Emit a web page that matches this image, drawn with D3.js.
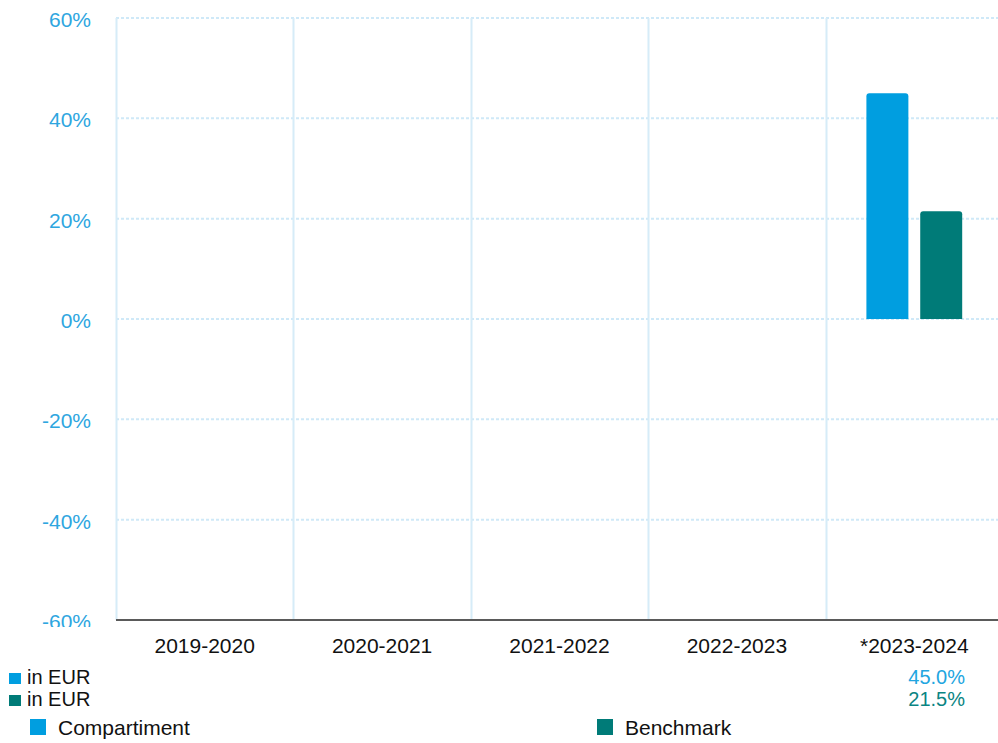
<!DOCTYPE html>
<html>
<head>
<meta charset="utf-8">
<script src="https://cdn.jsdelivr.net/npm/d3@7"></script>
<style>
  body { margin: 0; background: #fff; }
  text { font-family: Arial, "Liberation Sans", sans-serif; }
</style>
</head>
<body>
<div id="chart"></div>
<script>
var width = 998,
  height = 743;

// data
var periods = ["2019-2020", "2020-2021", "2021-2022", "2022-2023", "*2023-2024"];
var seriesNames = ["Compartiment", "Benchmark"];
var seriesColors = ["#009ee0", "#007b78"];
var valueColors = ["#22a5e0", "#0a8583"];
var compartiment = [null, null, null, null, 45.0];
var benchmark = [null, null, null, null, 21.5];
var yTicks = [-60, -40, -20, 0, 20, 40, 60];
var currency = ["in EUR", "in EUR"];

var svg = d3.select("#chart").append("svg")
  .attr("width", width)
  .attr("height", height);

var x = d3.scaleBand()
  .domain(periods)
  .range([116, 1003]);

var xSub = d3.scaleBand()
  .domain(seriesNames)
  .range([x.bandwidth() * 0.23, x.bandwidth() * 0.77])
  .paddingInner(0.22);

var y = d3.scaleLinear()
  .domain([-60, 60])
  .range([620, 18]);

// horizontal dotted grid
svg.append("g")
  .selectAll("line")
  .data(yTicks)
  .enter().append("line")
  .attr("x1", 116)
  .attr("x2", width)
  .attr("y1", function(d) { return y(d); })
  .attr("y2", function(d) { return y(d); })
  .attr("stroke", "#cfe9f8")
  .attr("stroke-width", 2)
  .attr("stroke-dasharray", "3,2");

// vertical grid at band edges
svg.append("g")
  .selectAll("line")
  .data(periods)
  .enter().append("line")
  .attr("x1", function(d) { return Math.round(x(d)) + 0.5; })
  .attr("x2", function(d) { return Math.round(x(d)) + 0.5; })
  .attr("y1", y(60))
  .attr("y2", y(-60))
  .attr("stroke", "#d6ecf8")
  .attr("stroke-width", 2);

// y labels, clipped at the bottom like the original
svg.append("clipPath").attr("id", "yclip")
  .append("rect").attr("x", 0).attr("y", 0).attr("width", 110).attr("height", 627);

svg.append("g")
  .attr("clip-path", "url(#yclip)")
  .selectAll("text")
  .data(yTicks)
  .enter().append("text")
  .attr("x", 91)
  .attr("y", function(d) { return y(d) + 9; })
  .attr("text-anchor", "end")
  .attr("font-size", "21px")
  .attr("fill", "#2ea6df")
  .text(function(d) { return d + "%"; });

// bars with slightly rounded tops
var data = [compartiment, benchmark];
function barPath(x0, w, yTop, yBase, r) {
  return "M" + x0 + "," + yBase +
    "V" + (yTop + r) +
    "Q" + x0 + "," + yTop + " " + (x0 + r) + "," + yTop +
    "H" + (x0 + w - r) +
    "Q" + (x0 + w) + "," + yTop + " " + (x0 + w) + "," + (yTop + r) +
    "V" + yBase + "Z";
}

seriesNames.forEach(function(name, si) {
  svg.append("g")
    .selectAll("path")
    .data(periods.map(function(p, i) { return { p: p, v: data[si][i] }; })
      .filter(function(d) { return d.v != null; }))
    .enter().append("path")
    .attr("fill", seriesColors[si])
    .attr("d", function(d) {
      var x0 = x(d.p) + xSub(name);
      return barPath(x0, xSub.bandwidth(), y(d.v), y(0), 3);
    });
});

// bottom axis line
svg.append("line")
  .attr("x1", 116).attr("x2", width)
  .attr("y1", y(-60)).attr("y2", y(-60))
  .attr("stroke", "#5a5a5a")
  .attr("stroke-width", 2);

// category labels
svg.append("g")
  .selectAll("text")
  .data(periods)
  .enter().append("text")
  .attr("x", function(d) { return x(d) + x.bandwidth() / 2; })
  .attr("y", 653)
  .attr("text-anchor", "middle")
  .attr("font-size", "21px")
  .attr("fill", "#111")
  .text(function(d) { return d; });

// currency rows with the last values
var rowY = [684, 706];
seriesNames.forEach(function(name, si) {
  svg.append("rect")
    .attr("x", 9).attr("y", rowY[si] - 11)
    .attr("width", 12).attr("height", 11)
    .attr("fill", seriesColors[si]);
  svg.append("text")
    .attr("x", 27).attr("y", rowY[si])
    .attr("font-size", "20px")
    .attr("fill", "#111")
    .text(currency[si]);
  var last = data[si][data[si].length - 1];
  svg.append("text")
    .attr("x", 965).attr("y", rowY[si])
    .attr("text-anchor", "end")
    .attr("font-size", "20px")
    .attr("fill", valueColors[si])
    .text(last.toFixed(1) + "%");
});

// legend
var legendX = [30, 597];
seriesNames.forEach(function(name, si) {
  svg.append("rect")
    .attr("x", legendX[si]).attr("y", 719)
    .attr("width", 16).attr("height", 16)
    .attr("fill", seriesColors[si]);
  svg.append("text")
    .attr("x", legendX[si] + 28).attr("y", 735)
    .attr("font-size", "21px")
    .attr("fill", "#111")
    .text(name);
});
</script>
</body>
</html>
